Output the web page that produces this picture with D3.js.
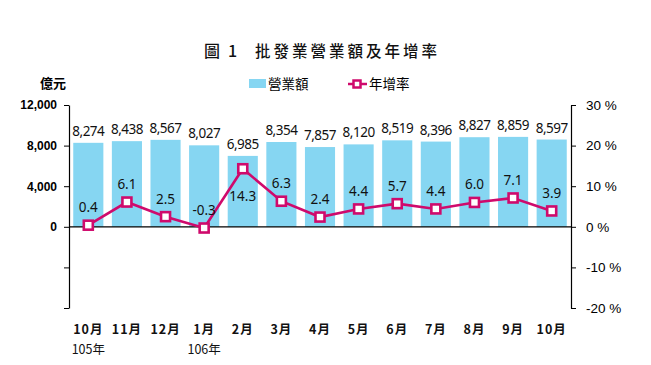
<!DOCTYPE html>
<html>
<head>
<meta charset="utf-8">
<script src="https://cdn.jsdelivr.net/npm/d3@7"></script>
<style>
  body { margin: 0; background: #fff; }
  svg { display: block; font-family: "Noto Sans", "Noto Sans CJK TC", sans-serif; }
</style>
</head>
<body>
<div id="chart"></div>
<script>
const months = ["10月", "11月", "12月", "1月", "2月", "3月", "4月", "5月", "6月", "7月", "8月", "9月", "10月"];
const sales = [8274, 8438, 8567, 8027, 6985, 8354, 7857, 8120, 8519, 8396, 8827, 8859, 8597];
const growth = [0.4, 6.1, 2.5, -0.3, 14.3, 6.3, 2.4, 4.4, 5.7, 4.4, 6.0, 7.1, 3.9];
const yearLabels = [{ at: 0, text: "105年" }, { at: 3, text: "106年" }];
const leftTicks = [-8000, -4000, 0, 4000, 8000, 12000];
const rightTicks = [-20, -10, 0, 10, 20, 30];

const W = 651, H = 365;
const plot = { left: 69, right: 571, top: 105, bottom: 308 };
const barColor = "#86d6f2";
const lineColor = "#cf0a6c";
const cjk = '"Noto Sans CJK TC", sans-serif';

const svg = d3.select("#chart").append("svg")
  .attr("width", W).attr("height", H);

const x = d3.scaleBand()
  .domain(d3.range(months.length))
  .range([plot.left, plot.right])
  .paddingInner(0.22)
  .paddingOuter(0.11);

const yL = d3.scaleLinear().domain([-8000, 12000]).range([plot.bottom, plot.top]);
const yR = d3.scaleLinear().domain([-20, 30]).range([plot.bottom, plot.top]);

// title
svg.append("text")
  .attr("x", 204).attr("y", 57)
  .style("font-family", cjk).style("font-size", "16px").style("font-weight", "500")
  .attr("fill", "#111")
  .text("圖");
svg.append("text")
  .attr("x", 228).attr("y", 57)
  .style("font-family", cjk).style("font-size", "16px").style("font-weight", "500")
  .attr("fill", "#111")
  .text("1");
svg.append("text")
  .attr("x", 255).attr("y", 57)
  .style("font-family", cjk).style("font-size", "15.5px").style("font-weight", "500")
  .style("letter-spacing", "3px").attr("fill", "#111")
  .text("批發業營業額及年增率");

// unit
svg.append("text")
  .attr("x", 40).attr("y", 88)
  .style("font-family", cjk).style("font-size", "13px").style("font-weight", "bold")
  .text("億元");

// legend
svg.append("rect").attr("x", 249).attr("y", 79).attr("width", 17).attr("height", 9).attr("fill", barColor);
svg.append("text").attr("x", 268).attr("y", 89)
  .style("font-family", cjk).style("font-size", "13.5px").text("營業額");
svg.append("line").attr("x1", 348).attr("x2", 367).attr("y1", 84).attr("y2", 84)
  .attr("stroke", lineColor).attr("stroke-width", 2.5);
svg.append("rect").attr("x", 353.5).attr("y", 80.5).attr("width", 7).attr("height", 7)
  .attr("fill", "#fff").attr("stroke", lineColor).attr("stroke-width", 2.5);
svg.append("text").attr("x", 369).attr("y", 89)
  .style("font-family", cjk).style("font-size", "13.5px").text("年增率");

// bars
svg.selectAll(".bar")
  .data(sales)
  .join("rect")
  .attr("class", "bar")
  .attr("x", (d, i) => x(i))
  .attr("width", x.bandwidth())
  .attr("y", d => yL(d))
  .attr("height", d => yL(0) - yL(d))
  .attr("fill", barColor);

svg.selectAll(".bar-label")
  .data(sales)
  .join("text")
  .attr("class", "bar-label")
  .attr("x", (d, i) => x(i) + x.bandwidth() / 2)
  .attr("y", d => yL(d) - 7)
  .attr("text-anchor", "middle")
  .style("font-size", "13.5px")
  .style("letter-spacing", "-0.5px")
  .attr("fill", "#111")
  .text(d => d3.format(",")(d));

// zero line
svg.append("line")
  .attr("x1", plot.left).attr("x2", plot.right)
  .attr("y1", yL(0)).attr("y2", yL(0))
  .attr("stroke", "#000").attr("stroke-width", 1.2);

// left axis
svg.append("g")
  .attr("transform", `translate(${plot.left},0)`)
  .call(d3.axisLeft(yL).tickValues(leftTicks).tickSize(5).tickSizeOuter(0)
    .tickFormat(d => d < 0 ? "" : d3.format(",")(d)))
  .call(g => g.selectAll("text").attr("x", -12)
    .style("font-family", '"Liberation Sans", Arial, sans-serif')
    .style("font-size", "12px").style("font-weight", "bold").attr("fill", "#000"))
  .call(g => g.select(".domain").attr("stroke-width", 1.2));

// right axis
svg.append("g")
  .attr("transform", `translate(${plot.right},0)`)
  .call(d3.axisRight(yR).tickValues(rightTicks).tickSize(5).tickSizeOuter(0)
    .tickFormat(d => d + " %"))
  .call(g => g.selectAll("text").attr("x", 15)
    .style("font-size", "13.5px").attr("fill", "#000"))
  .call(g => g.select(".domain").attr("stroke-width", 1.2));

// x labels
svg.selectAll(".month")
  .data(months)
  .join("text")
  .attr("class", "month")
  .attr("x", (d, i) => x(i) + x.bandwidth() / 2)
  .attr("y", 334)
  .attr("text-anchor", "middle")
  .style("font-family", cjk).style("font-size", "12.5px").style("font-weight", "bold")
  .style("letter-spacing", "1px")
  .attr("fill", "#111")
  .text(d => d);

svg.selectAll(".year")
  .data(yearLabels)
  .join("text")
  .attr("class", "year")
  .attr("x", d => x(d.at) + x.bandwidth() / 2)
  .attr("y", 354)
  .attr("text-anchor", "middle")
  .style("font-family", cjk).style("font-size", "12.5px")
  .attr("fill", "#111")
  .text(d => d.text);

// growth line
const line = d3.line()
  .x((d, i) => x(i) + x.bandwidth() / 2)
  .y(d => yR(d));

svg.append("path")
  .datum(growth)
  .attr("fill", "none")
  .attr("stroke", lineColor)
  .attr("stroke-width", 2.6)
  .attr("d", line);

svg.selectAll(".marker")
  .data(growth)
  .join("rect")
  .attr("class", "marker")
  .attr("x", (d, i) => x(i) + x.bandwidth() / 2 - 4.5)
  .attr("y", d => yR(d) - 4.5)
  .attr("width", 9).attr("height", 9)
  .attr("fill", "#fff")
  .attr("stroke", lineColor)
  .attr("stroke-width", 2.6);

svg.selectAll(".growth-label")
  .data(growth)
  .join("text")
  .attr("class", "growth-label")
  .attr("x", (d, i) => x(i) + x.bandwidth() / 2)
  .attr("y", d => d > 10 ? yR(d) + 32 : yR(d) - 13)
  .attr("text-anchor", "middle")
  .style("font-size", "13.5px")
  .attr("fill", "#111")
  .text(d => d.toFixed(1));
</script>
</body>
</html>
